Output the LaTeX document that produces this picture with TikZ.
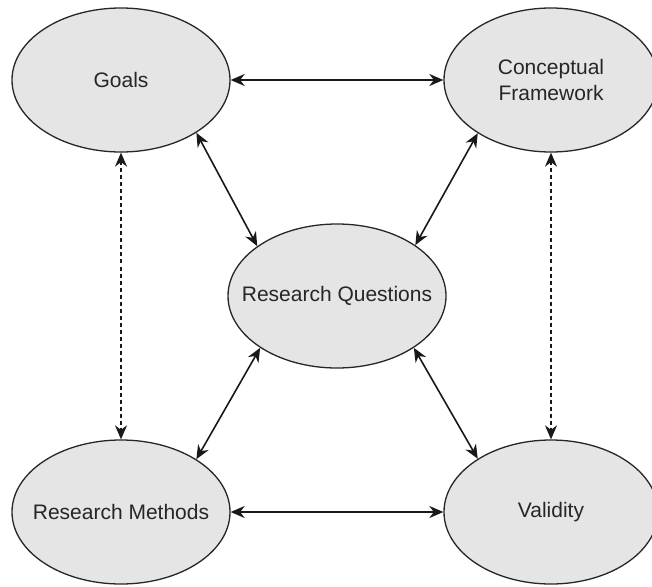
\documentclass[tikz,border=0pt]{standalone}
\usepackage{fontspec}
\setmainfont{Liberation Sans}
\usetikzlibrary{shapes.geometric,arrows.meta}
\newcommand{\zw}[1]{\makebox[0pt][c]{#1}}
\begin{document}
\begin{tikzpicture}[x=1pt,y=-1pt,
  oval/.style={ellipse, draw=black!85, line width=1.3pt, fill=black!10,
    minimum width=218pt, minimum height=144pt, inner sep=0pt,
    font=\fontsize{21}{26}\selectfont, text=black!85, align=center},
  link/.style={line width=1.6pt, draw=black!90,
    {Stealth[length=14pt,width=12pt]}-{Stealth[length=14pt,width=12pt]}},
  dlink/.style={link, dash pattern=on 4pt off 3pt}]
\useasboundingbox (0,0) rectangle (652,586);
\node[oval] (goals) at (121,80) {\zw{Goals}};
\node[oval, minimum width=214pt] (cf) at (551,80) {\zw{Conceptual}\\\zw{Framework}};
\node[oval] (rq) at (337,296) {\zw{Research Questions}};
\node[oval] (rm) at (121,512) {\zw{Research Methods}};
\node[oval, minimum width=214pt] (val) at (551,512) {\zw{Validity}};
\draw[link] (goals.east) -- (cf.west);
\draw[link] (rm.east) -- (val.west);
\draw[link] (goals.-35) -- (rq.148);
\draw[link] (cf.216) -- (rq.33);
\draw[link] (rq.214) -- (rm.35);
\draw[link] (rq.-34) -- (val.144);
\draw[dlink] (goals.south) -- (rm.north);
\draw[dlink] (cf.south) -- (val.north);
\end{tikzpicture}
\end{document}
